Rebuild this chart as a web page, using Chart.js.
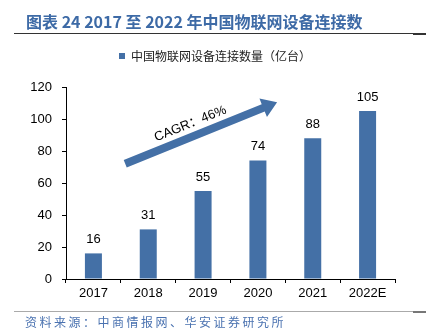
<!DOCTYPE html>
<html>
<head>
<meta charset="utf-8">
<script src="https://cdn.jsdelivr.net/npm/chart.js@4/dist/chart.umd.min.js"></script>
<style>
  html, body { margin: 0; padding: 0; background: #fff; }
  #wrap { width: 426px; height: 328px; }
</style>
</head>
<body>
<div id="wrap"><canvas id="chart" width="426" height="328"></canvas></div>
<script>
var titleText = '图表 24 2017 至 2022 年中国物联网设备连接数';
var sourceText = '资料来源：中商情报网、华安证券研究所';
var seriesName = '中国物联网设备连接数量（亿台）';
var years = ['2017', '2018', '2019', '2020', '2021', '2022E'];
var connections = [16, 31, 55, 74, 88, 105];
var yTicks = [0, 20, 40, 60, 80, 100, 120];
var cagrText = 'CAGR：46%';
// arrow ends in data units (category index, value)
var arrowFrom = [0.58, 72];
var arrowTo = [3.35, 110.5];

var blue = '#4470a6';
var latin = '"Liberation Sans", Arial, "Noto Sans CJK SC", sans-serif';
var cjk = '"Noto Sans CJK SC", "Liberation Sans", sans-serif';

// draws title, rules, source line, value labels and the CAGR arrow
var decorations = {
  id: 'decorations',
  beforeInit: function(chart) {
    var legend = chart.legend;
    var fit = legend.fit;
    legend.fit = function() {
      fit.call(legend);
      this.height += 15;
    };
  },
  afterLayout: function(chart) {
    // center the legend on the page rather than left of the plot
    chart.legend.left = 35;
  },
  afterDraw: function(chart) {
    var ctx = chart.ctx;
    ctx.save();

    ctx.fillStyle = '#3d6aa6';
    ctx.font = 'bold 16px ' + cjk;
    ctx.textBaseline = 'middle';
    ctx.textAlign = 'left';
    ctx.fillText(titleText, 26, 22);

    ctx.fillStyle = '#333';
    ctx.fillRect(14, 33, 412, 1);
    ctx.fillRect(413, 33, 13, 2);

    ctx.fillStyle = '#aaa';
    ctx.fillRect(14, 311, 399, 1);
    ctx.fillStyle = '#777';
    ctx.fillRect(413, 311, 13, 2);

    ctx.fillStyle = '#4a72b0';
    ctx.font = '12px ' + cjk;
    ctx.letterSpacing = '2.5px';
    ctx.fillText(sourceText, 25, 322);
    ctx.letterSpacing = '0px';

    // arrow
    var x = chart.scales.x, y = chart.scales.y;
    var x0 = x.getPixelForValue(arrowFrom[0]), y0 = y.getPixelForValue(arrowFrom[1]);
    var x1 = x.getPixelForValue(arrowTo[0]), y1 = y.getPixelForValue(arrowTo[1]);
    var len = Math.sqrt((x1 - x0) * (x1 - x0) + (y1 - y0) * (y1 - y0));
    var ang = Math.atan2(y1 - y0, x1 - x0);
    ctx.translate(x0, y0);
    ctx.rotate(ang);
    ctx.fillStyle = blue;
    ctx.beginPath();
    ctx.moveTo(0, -4);
    ctx.lineTo(len - 15, -4);
    ctx.lineTo(len - 15, -10);
    ctx.lineTo(len, 0);
    ctx.lineTo(len - 15, 10);
    ctx.lineTo(len - 15, 4);
    ctx.lineTo(0, 4);
    ctx.closePath();
    ctx.fill();
    ctx.fillStyle = '#000';
    ctx.font = '13px ' + latin;
    ctx.textAlign = 'center';
    ctx.textBaseline = 'bottom';
    ctx.fillText(cagrText, len * 0.46, -6);
    ctx.restore();
  },
  afterDatasetsDraw: function(chart) {
    var ctx = chart.ctx;
    var meta = chart.getDatasetMeta(0);
    ctx.save();
    ctx.fillStyle = '#000';
    ctx.font = '13px ' + latin;
    ctx.textAlign = 'center';
    ctx.textBaseline = 'middle';
    meta.data.forEach(function(bar, i) {
      ctx.fillText(String(connections[i]), bar.x, bar.y - 14);
    });
    ctx.restore();
  }
};

var ctx = document.getElementById('chart').getContext('2d');
var chart = new Chart(ctx, {
  type: 'bar',
  data: {
    labels: years,
    datasets: [{
      label: seriesName,
      data: connections,
      backgroundColor: blue,
      borderWidth: 0,
      categoryPercentage: 1,
      barPercentage: 0.31
    }]
  },
  options: {
    responsive: false,
    animation: false,
    devicePixelRatio: 1,
    layout: { padding: { left: 0, right: 31, top: 40, bottom: 19 } },
    plugins: {
      title: { display: false },
      tooltip: { enabled: false },
      legend: {
        display: true,
        position: 'top',
        align: 'center',
        labels: {
          boxWidth: 6,
          boxHeight: 6,
          padding: 10,
          color: '#222',
          font: { size: 12, family: cjk }
        }
      }
    },
    scales: {
      x: {
        offset: true,
        afterFit: function(axis) { axis.height = 30; },
        grid: {
          display: true,
          offset: true,
          drawOnChartArea: false,
          drawTicks: true,
          tickLength: 4,
          color: '#000'
        },
        border: { display: true, color: '#000', width: 1 },
        ticks: {
          color: '#000',
          padding: 3,
          font: { size: 13, family: latin }
        }
      },
      y: {
        min: 0,
        max: 120,
        afterFit: function(axis) { axis.width = 66; },
        afterBuildTicks: function(axis) {
          axis.ticks = yTicks.map(function(v) { return { value: v }; });
        },
        grid: {
          display: true,
          drawOnChartArea: false,
          drawTicks: true,
          tickLength: 4,
          color: '#000'
        },
        border: { display: true, color: '#000', width: 1 },
        ticks: {
          color: '#000',
          padding: 10,
          font: { size: 13, family: latin }
        }
      }
    }
  },
  plugins: [decorations]
});
</script>
</body>
</html>
